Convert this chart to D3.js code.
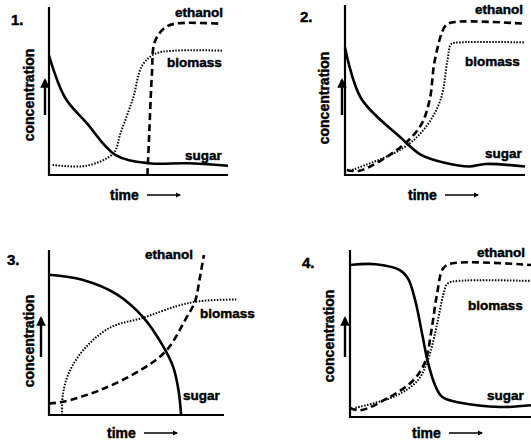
<!DOCTYPE html>
<meta charset="utf-8">
<style>
body { margin: 0; background: #fff; }
text { font-family: "Liberation Sans", Arial, sans-serif; font-weight: bold; fill: #000; stroke: #000; stroke-width: 0.45; }
.axis { stroke: #000; stroke-width: 2.2; fill: none; }
.sugar { stroke: #000; stroke-width: 2.6; fill: none; }
.ethanol { stroke: #000; stroke-width: 2.6; fill: none; stroke-dasharray: 7,4; }
.biomass { stroke: #000; stroke-width: 2; fill: none; stroke-dasharray: 1.5,1.5; }
</style>
<script src="https://d3js.org/d3.v7.min.js"></script>
<svg width="531" height="444"></svg>
<script>

// time (0-10) vs concentration (0-10)
var sugar1   = [[0,7.1],[0.9,4.6],[2.1,3.1],[3.7,1.2],[5.6,0.7],[7.7,0.7],[10,0.55]];
var biomass1 = [[0.2,0.6],[2.1,0.55],[3.6,1.3],[4.0,2.5],[4.7,4.6],[5.2,6.5],[5.9,7.2],[7.0,7.4],[9.7,7.4]];
var ethanol1 = [[5.5,0],[5.6,2.5],[5.75,6.0],[5.9,7.9],[6.4,8.7],[7.0,9.0],[9.6,9.0]];

var sugar2   = [[0,7.5],[0.9,4.5],[3.1,2.2],[4.2,1.2],[5.6,0.7],[6.9,0.5],[7.8,0.65],[10,0.5]];
var biomass2 = [[0.4,0.3],[3.1,1.5],[4.4,2.7],[5.3,4.4],[5.7,6.8],[5.9,7.7],[6.4,7.8],[10,7.8]];
var ethanol2 = [[0.1,0.3],[0.8,0.25],[3.1,1.65],[4.2,2.9],[4.7,4.4],[5.0,6.8],[5.6,8.8],[6.1,9.0],[10,8.9]];

var sugar3   = [[0,8.5],[1.9,8.2],[3.9,7.3],[5.4,5.9],[6.5,4.2],[7.1,2.9],[7.4,1.5],[7.55,0]];
var biomass3 = [[0.75,0],[0.8,1.3],[1.2,2.7],[2.1,4.1],[3.5,5.3],[5.4,5.9],[7.3,6.6],[8.6,6.9],[10.7,7.0]];
var ethanol3 = [[0,0.7],[0.8,0.8],[2.9,1.5],[5.2,2.7],[6.7,3.9],[7.8,5.8],[8.35,6.9],[8.6,8.2],[8.85,9.7]];

var sugar4   = [[0,9.1],[1.4,9.15],[2.75,8.8],[3.2,8.3],[3.6,7.0],[4.0,4.9],[4.3,3.3],[4.7,1.9],[5.1,1.2],[6.1,0.85],[8.3,0.6],[10,0.7]];
var biomass4 = [[0.3,0.55],[2.5,1.25],[3.75,2.2],[4.3,3.4],[4.8,5.5],[5.15,7.3],[5.4,8.0],[6.0,8.15],[10,8.15]];
var ethanol4 = [[0,0.55],[0.55,0.4],[2.2,1.2],[3.5,2.2],[4.15,3.3],[4.5,5.2],[4.8,7.3],[5.15,8.9],[5.65,9.2],[10,9.1]];

var panelNumbers = ["1.", "2.", "3.", "4."];
var seriesNames = ["sugar", "biomass", "ethanol"];
var yTitle = "concentration";
var xTitle = "time";

// layout of the four sketches
var panels = [
  { data: [sugar1, biomass1, ethanol1], x0: 49, x1: 228, y0: 175, y1: 7,
    num: [11, 25], labels: [[185, 160], [167, 67], [175, 17]], time: [110, 200], conc: [34, 95], arrow: [45, 115, 80] },
  { data: [sugar2, biomass2, ethanol2], x0: 345, x1: 525, y0: 175, y1: 5,
    num: [300, 22], labels: [[485, 158], [465, 66], [475, 14]], time: [408, 200], conc: [329, 98], arrow: [342, 115, 80] },
  { data: [sugar3, biomass3, ethanol3], x0: 49, x1: 224, y0: 415, y1: 250,
    num: [7, 265], labels: [[183, 400], [200, 318], [145, 259]], time: [107, 438], conc: [34, 341], arrow: [41, 357, 318] },
  { data: [sugar4, biomass4, ethanol4], x0: 350, x1: 531, y0: 417, y1: 250,
    num: [302, 268], labels: [[487, 400], [468, 310], [477, 257]], time: [412, 438], conc: [334, 336], arrow: [345, 357, 318] }
];

var svg = d3.select("svg");

svg.append("defs").append("marker")
    .attr("id", "head")
    .attr("viewBox", "0 0 10 10")
    .attr("refX", 8).attr("refY", 5)
    .attr("markerWidth", 4).attr("markerHeight", 4)
    .attr("orient", "auto")
  .append("path")
    .attr("d", "M0,0L10,5L0,10Z")
    .attr("fill", "#000");

panels.forEach(function(p, i) {
  var x = d3.scaleLinear().domain([0, 10]).range([p.x0, p.x1]);
  var y = d3.scaleLinear().domain([0, 10]).range([p.y0, p.y1]);
  var g = svg.append("g");

  // axes
  g.append("line").attr("class", "axis")
      .attr("x1", x(0)).attr("x2", x(0)).attr("y1", y(10)).attr("y2", y(0) + 1);
  g.append("line").attr("class", "axis")
      .attr("x1", x(0) - 1).attr("x2", x(10)).attr("y1", y(0)).attr("y2", y(0));

  var line = d3.line()
      .x(function(d) { return x(d[0]); })
      .y(function(d) { return y(d[1]); })
      .curve(d3.curveCatmullRom.alpha(0.5));

  p.data.forEach(function(s, j) {
    g.append("path").attr("class", seriesNames[j]).attr("d", line(s));
    g.append("text")
        .attr("x", p.labels[j][0]).attr("y", p.labels[j][1])
        .style("font-size", "13.5px")
        .text(seriesNames[j]);
  });

  g.append("text")
      .attr("x", p.num[0]).attr("y", p.num[1])
      .style("font-size", "15px")
      .text(panelNumbers[i]);

  g.append("text")
      .attr("x", p.time[0]).attr("y", p.time[1])
      .style("font-size", "14px")
      .text(xTitle);
  g.append("line")
      .attr("x1", p.time[0] + 37).attr("x2", p.time[0] + 70)
      .attr("y1", p.time[1] - 5).attr("y2", p.time[1] - 5)
      .attr("stroke", "#000").attr("stroke-width", 1.3)
      .attr("marker-end", "url(#head)");

  g.append("text")
      .attr("transform", "translate(" + p.conc[0] + "," + p.conc[1] + ") rotate(-90)")
      .attr("text-anchor", "middle")
      .style("font-size", "14px")
      .text(yTitle);
  g.append("line")
      .attr("x1", p.arrow[0]).attr("x2", p.arrow[0])
      .attr("y1", p.arrow[1]).attr("y2", p.arrow[2])
      .attr("stroke", "#000").attr("stroke-width", 2.4)
      .attr("marker-end", "url(#head)");
});

</script>
